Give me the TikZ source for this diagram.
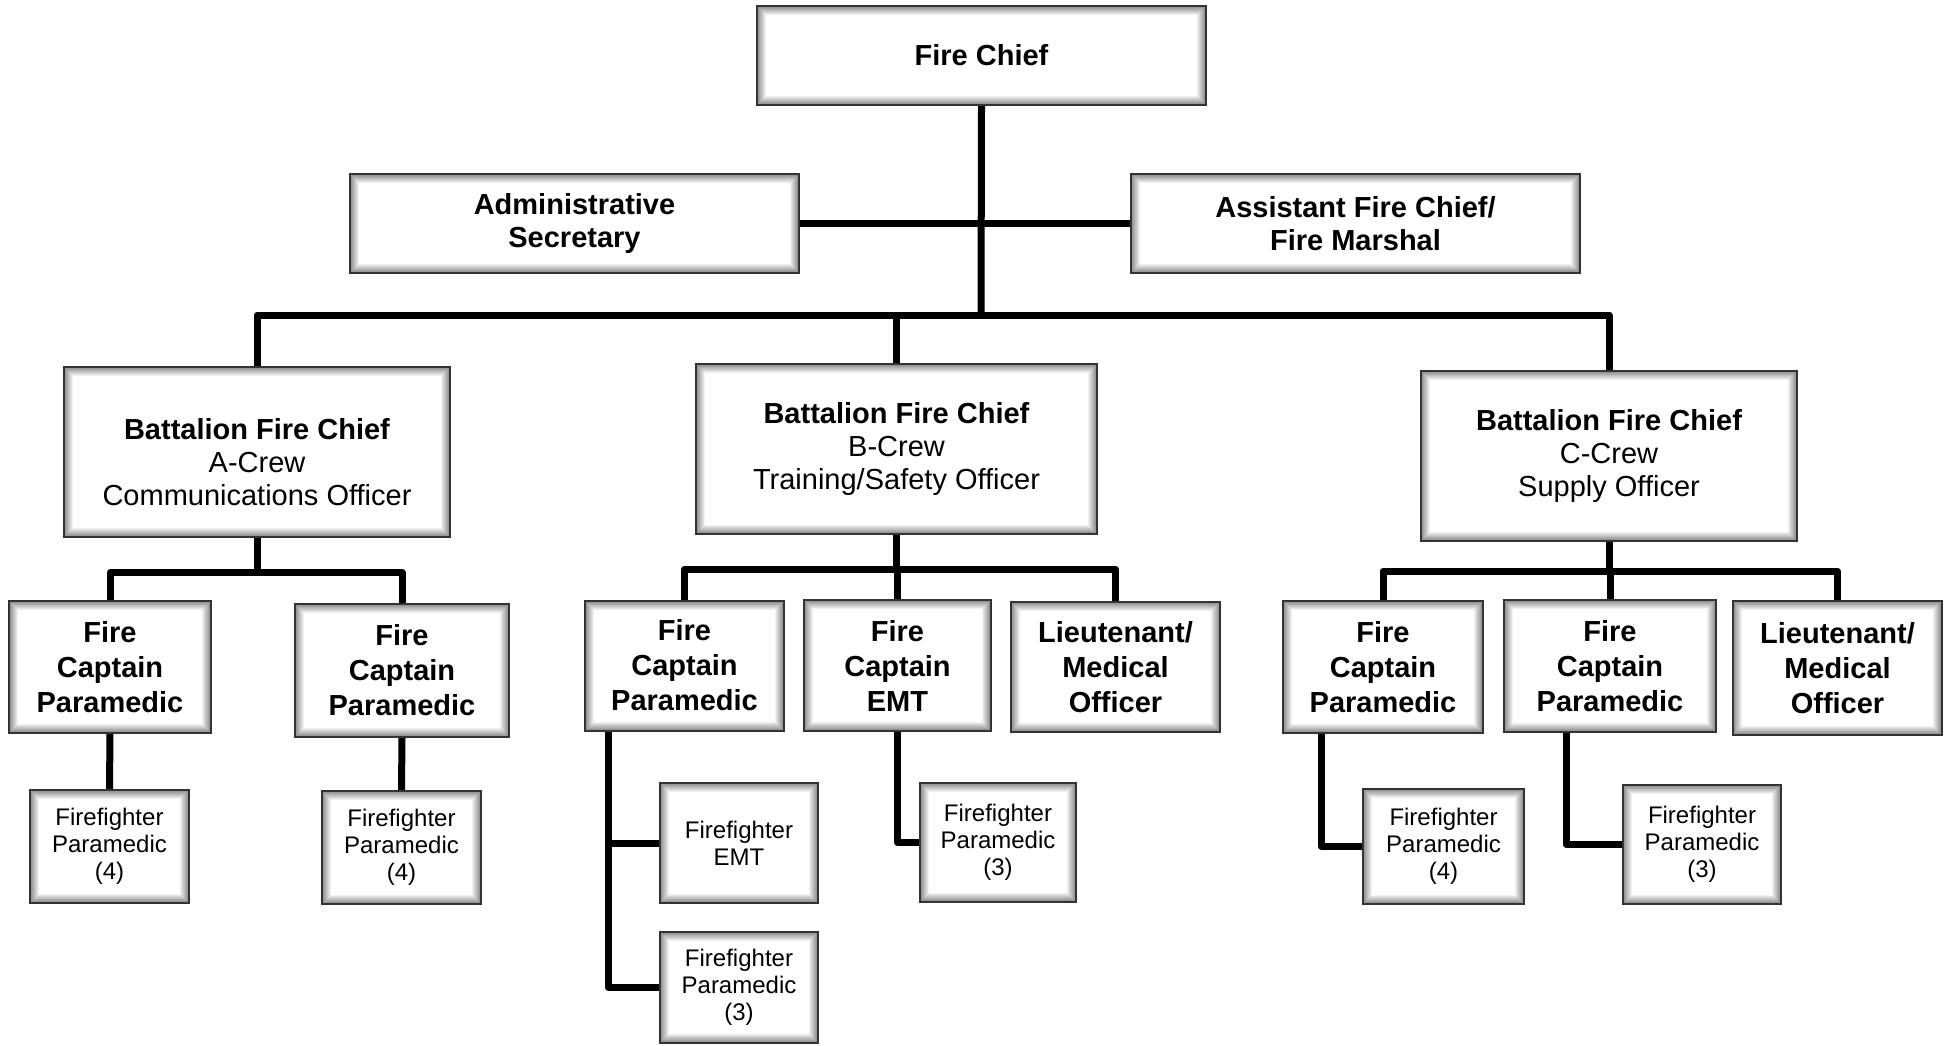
\documentclass[tikz,border=0pt]{standalone}
\usepackage{fontspec}
\setmainfont{Liberation Sans}
\usetikzlibrary{calc,backgrounds}

\begin{document}
\begin{tikzpicture}[
  x=1pt, y=1pt,
  bevel/.style={path picture={
    \foreach \k in {0,...,8}{
      \pgfmathtruncatemacro\tone{46-5*\k}
      \draw[black!\tone, line width=1pt]
        ($(path picture bounding box.south west)+(\k+0.5,\k+0.5)$) rectangle
        ($(path picture bounding box.north east)-(\k+0.5,\k+0.5)$);
    }}},
  box/.style={draw=black!80, line width=2pt, fill=white, bevel, align=center, inner sep=0pt},
  head/.style={box, font=\bfseries\fontsize{29}{33}\selectfont, minimum width=449pt, minimum height=99pt},
  battalion/.style={box, font=\fontsize{29}{33}\selectfont, minimum height=170pt},
  captain/.style={box, font=\bfseries\fontsize{29}{35}\selectfont},
  crew/.style={box, font=\fontsize{24}{27}\selectfont},
  link/.style={line width=7pt, line join=round}
]
\useasboundingbox (0,0) rectangle (1950,-1045);

% top of the department
\node[head] (chief) at (981.5,-55.5) {Fire Chief};
\node[head] (admin) at (574.5,-223.5) {Administrative\\Secretary};
\node[head] (asst) at (1355.5,-223.5) {Assistant Fire Chief/\\Fire Marshal};

% battalion chiefs, one per crew (A-crew text sits a little lower)
\node[battalion, minimum width=386pt] (bfca) at (257,-451.5) {\rule{0pt}{43pt}\textbf{Battalion Fire Chief}\\A-Crew\\Communications Officer};
\node[battalion, minimum width=401pt] (bfcb) at (896.5,-449) {\textbf{Battalion Fire Chief}\\B-Crew\\Training/Safety Officer};
\node[battalion, minimum width=376pt] (bfcc) at (1609,-456) {\textbf{Battalion Fire Chief}\\C-Crew\\Supply Officer};

% captains and lieutenants
\node[captain, minimum width=202pt, minimum height=132pt] (capa1) at (110,-667) {Fire\\Captain\\Paramedic};
\node[captain, minimum width=214pt, minimum height=133pt] (capa2) at (402,-670.5) {Fire\\Captain\\Paramedic};
\node[captain, minimum width=199pt, minimum height=130pt] (capb1) at (684.5,-665.5) {Fire\\Captain\\Paramedic};
\node[captain, minimum width=187pt, minimum height=131pt] (capb2) at (897.5,-665.5) {Fire\\Captain\\EMT};
\node[captain, minimum width=209pt, minimum height=130pt] (ltb) at (1115.5,-667) {Lieutenant/\\Medical\\Officer};
\node[captain, minimum width=200pt, minimum height=132pt] (capc1) at (1383,-667) {Fire\\Captain\\Paramedic};
\node[captain, minimum width=212pt, minimum height=132pt] (capc2) at (1610,-666) {Fire\\Captain\\Paramedic};
\node[captain, minimum width=209pt, minimum height=134pt] (ltc) at (1837.5,-668) {Lieutenant/\\Medical\\Officer};

% firefighters
\node[crew, minimum width=159pt, minimum height=113pt] (ffa1) at (109.5,-846.5) {Firefighter\\Paramedic\\(4)};
\node[crew, minimum width=159pt, minimum height=113pt] (ffa2) at (401.5,-847.5) {Firefighter\\Paramedic\\(4)};
\node[crew, minimum width=158pt, minimum height=120pt] (ffb1) at (739,-843) {Firefighter\\EMT};
\node[crew, minimum width=158pt, minimum height=111pt] (ffb2) at (739,-987.5) {Firefighter\\Paramedic\\(3)};
\node[crew, minimum width=156pt, minimum height=119pt] (ffb3) at (998,-842.5) {Firefighter\\Paramedic\\(3)};
\node[crew, minimum width=161pt, minimum height=115pt] (ffc1) at (1443.5,-846.5) {Firefighter\\Paramedic\\(4)};
\node[crew, minimum width=158pt, minimum height=119pt] (ffc2) at (1702,-844.5) {Firefighter\\Paramedic\\(3)};

\begin{pgfonlayer}{background}
\coordinate (bus) at (981,-315);
\coordinate (busa) at ($(bfca.south)+(0,-35)$);
\coordinate (busb) at ($(bfcb.south)+(0,-34)$);
\coordinate (busc) at ($(bfcc.south)+(0,-29)$);

\draw[link] (chief.south) -- (bus);
\draw[link] (admin.east) -- (asst.west);
\draw[link] (bfca.north) |- (bus) -| (bfcc.north);
\draw[link] (bfcb.north) -- (bfcb.north |- bus);

\draw[link] (bfca.south) -- (busa);
\draw[link] (capa1.north) |- (busa) -| (capa2.north);
\draw[link] (bfcb.south) -- (busb);
\draw[link] (capb1.north) |- (busb) -| (ltb.north);
\draw[link] (capb2.north) -- (capb2.north |- busb);
\draw[link] (bfcc.south) -- (busc);
\draw[link] (capc1.north) |- (busc) -| (ltc.north);
\draw[link] (capc2.north) -- (capc2.north |- busc);

\draw[link] (capa1.south) -- (ffa1.north);
\draw[link] (capa2.south) -- (ffa2.north);
\draw[link] ($(capb1.south)+(-76.5,0)$) |- (ffb1.west);
\draw[link] ($(capb1.south)+(-76.5,0)$) |- (ffb2.west);
\draw[link] (capb2.south) |- (ffb3.west);
\draw[link] ($(capc1.south)+(-62,0)$) |- (ffc1.west);
\draw[link] ($(capc2.south)+(-44,0)$) |- (ffc2.west);
\end{pgfonlayer}
\end{tikzpicture}
\end{document}
